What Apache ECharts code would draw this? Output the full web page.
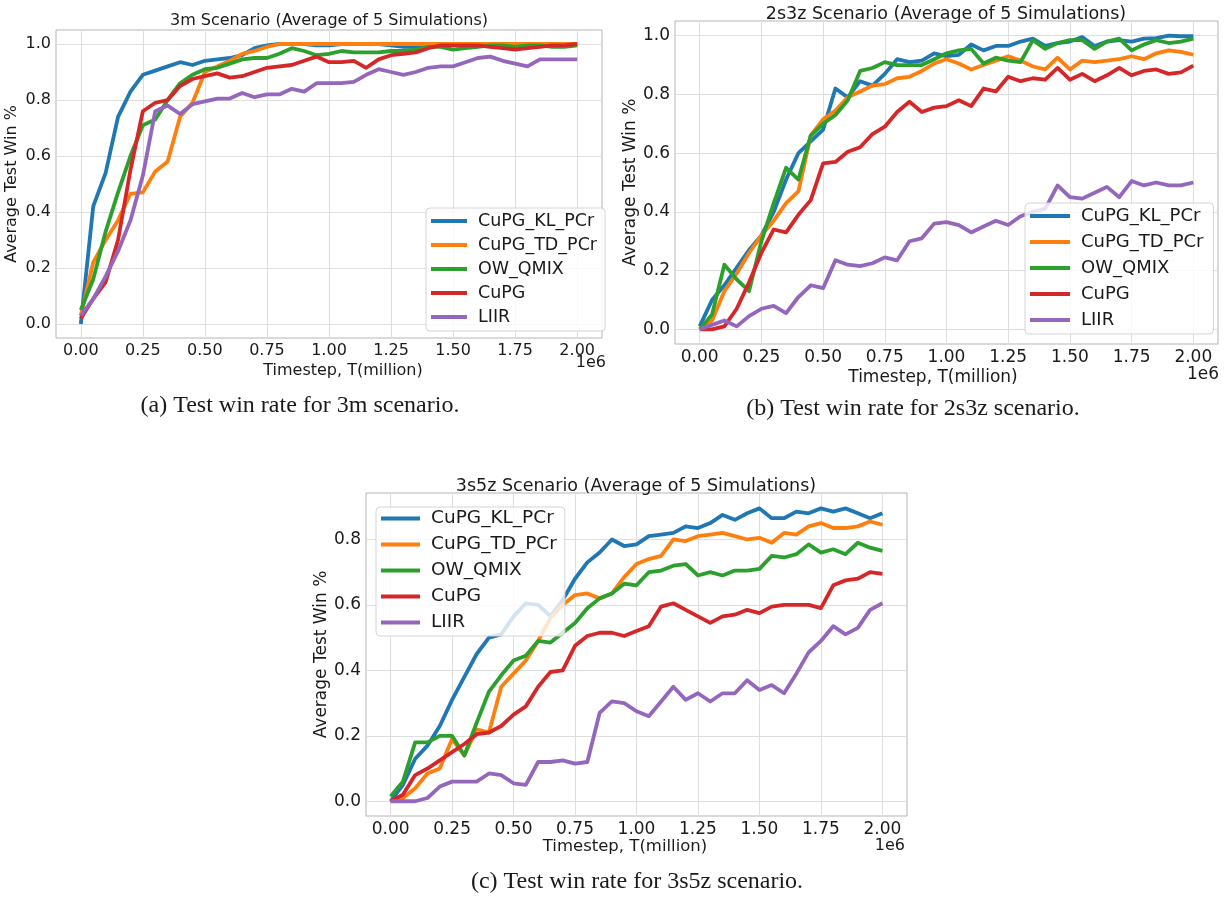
<!DOCTYPE html>
<html>
<head>
<meta charset="utf-8">
<script src="https://cdn.jsdelivr.net/npm/echarts@6/dist/echarts.min.js"></script>
<style>
  html, body { margin: 0; padding: 0; background: #fff; }
  #main { width: 1230px; height: 903px; }
</style>
</head>
<body>
<div id="main"></div>
<script>
// timesteps in millions (axis shows 0.00 .. 2.00 with a 1e6 offset)
var timesteps = [0, 0.05, 0.1, 0.15, 0.2, 0.25, 0.3, 0.35, 0.4, 0.45, 0.5, 0.55, 0.6, 0.65, 0.7, 0.75, 0.8, 0.85, 0.9, 0.95, 1,
                 1.05, 1.1, 1.15, 1.2, 1.25, 1.3, 1.35, 1.4, 1.45, 1.5, 1.55, 1.6, 1.65, 1.7, 1.75, 1.8, 1.85, 1.9, 1.95, 2];
var xTicks = [0, 0.25, 0.5, 0.75, 1, 1.25, 1.5, 1.75, 2];
var yTicks = [0, 0.2, 0.4, 0.6, 0.8, 1.0];
var yTicksC = [0, 0.2, 0.4, 0.6, 0.8];
var names = ['CuPG_KL_PCr', 'CuPG_TD_PCr', 'OW_QMIX', 'CuPG', 'LIIR'];
var colors = ['#1f77b4', '#ff7f0e', '#2ca02c', '#d62728', '#9467bd'];

// (a) 3m
var m3_kl   = [0.00,0.42,0.54,0.74,0.83,0.89,0.905,0.92,0.935,0.925,0.94,0.945,0.95,0.96,0.985,0.995,1.0,1.0,1.0,0.995,0.995,1.0,1.0,1.0,1.0,0.995,0.99,0.99,1.0,1.0,1.0,1.0,1.0,1.0,1.0,1.0,0.995,1.0,1.0,1.0,1.0];
var m3_td   = [0.03,0.22,0.30,0.37,0.465,0.47,0.545,0.58,0.74,0.79,0.90,0.92,0.94,0.965,0.975,0.99,1.0,1.0,1.0,1.0,1.0,1.0,1.0,1.0,1.0,1.0,1.0,1.0,1.0,1.0,1.0,1.0,1.0,1.0,1.0,1.0,1.0,1.0,1.0,1.0,1.0];
var m3_qmix = [0.05,0.16,0.33,0.47,0.60,0.71,0.73,0.80,0.86,0.89,0.91,0.915,0.93,0.945,0.95,0.95,0.965,0.985,0.975,0.96,0.965,0.975,0.97,0.97,0.97,0.975,0.975,0.98,0.99,0.99,0.98,0.985,0.99,0.995,0.995,0.99,0.995,0.995,0.99,0.99,0.995];
var m3_cupg = [0.02,0.09,0.15,0.30,0.55,0.76,0.79,0.80,0.85,0.875,0.885,0.895,0.88,0.885,0.90,0.915,0.92,0.925,0.94,0.955,0.935,0.935,0.94,0.915,0.945,0.96,0.965,0.97,0.985,0.995,0.995,0.995,0.995,0.99,0.985,0.98,0.985,0.99,0.995,0.995,1.0];
var m3_liir = [0.03,0.09,0.17,0.26,0.37,0.53,0.76,0.78,0.75,0.785,0.795,0.805,0.805,0.825,0.81,0.82,0.82,0.84,0.83,0.86,0.86,0.86,0.865,0.89,0.91,0.90,0.89,0.90,0.915,0.92,0.92,0.935,0.95,0.955,0.94,0.93,0.92,0.945,0.945,0.945,0.945];

// (b) 2s3z
var s2z3_kl   = [0.01,0.10,0.15,0.21,0.27,0.32,0.40,0.51,0.60,0.64,0.68,0.82,0.79,0.845,0.83,0.87,0.92,0.91,0.915,0.94,0.93,0.935,0.97,0.95,0.965,0.965,0.98,0.99,0.965,0.975,0.98,0.995,0.965,0.98,0.985,0.98,0.99,0.992,1.0,0.998,0.998];
var s2z3_td   = [0.0,0.03,0.13,0.19,0.26,0.32,0.37,0.43,0.47,0.66,0.715,0.745,0.79,0.81,0.83,0.835,0.855,0.86,0.88,0.905,0.92,0.905,0.885,0.9,0.915,0.93,0.915,0.895,0.885,0.925,0.885,0.915,0.91,0.915,0.92,0.93,0.92,0.94,0.95,0.945,0.935];
var s2z3_qmix = [0.0,0.05,0.22,0.17,0.13,0.30,0.43,0.55,0.51,0.66,0.70,0.73,0.78,0.88,0.89,0.91,0.90,0.90,0.90,0.92,0.94,0.95,0.955,0.905,0.925,0.915,0.91,0.985,0.955,0.975,0.985,0.985,0.955,0.98,0.99,0.95,0.97,0.985,0.975,0.98,0.99];
var s2z3_cupg = [0.0,0.0,0.01,0.07,0.16,0.26,0.34,0.33,0.39,0.44,0.565,0.57,0.605,0.62,0.665,0.69,0.74,0.775,0.74,0.755,0.76,0.78,0.76,0.82,0.81,0.86,0.845,0.855,0.85,0.89,0.85,0.87,0.845,0.865,0.89,0.865,0.88,0.885,0.87,0.875,0.898];
var s2z3_liir = [0.0,0.015,0.03,0.01,0.045,0.07,0.08,0.055,0.11,0.15,0.14,0.235,0.22,0.215,0.225,0.245,0.235,0.30,0.31,0.36,0.365,0.355,0.33,0.35,0.37,0.355,0.385,0.40,0.41,0.49,0.45,0.445,0.465,0.485,0.45,0.505,0.49,0.50,0.49,0.49,0.50];

// (c) 3s5z
var s3z5_kl   = [0.0,0.05,0.13,0.17,0.23,0.31,0.38,0.45,0.50,0.51,0.565,0.605,0.60,0.565,0.615,0.68,0.73,0.76,0.80,0.78,0.785,0.81,0.815,0.82,0.84,0.835,0.85,0.875,0.86,0.88,0.895,0.865,0.865,0.885,0.88,0.895,0.885,0.895,0.88,0.865,0.88];
var s3z5_td   = [0.0,0.01,0.04,0.085,0.10,0.19,0.14,0.22,0.21,0.35,0.39,0.43,0.49,0.56,0.60,0.63,0.635,0.62,0.635,0.685,0.725,0.74,0.75,0.80,0.795,0.81,0.815,0.82,0.81,0.80,0.805,0.79,0.82,0.815,0.84,0.85,0.835,0.835,0.84,0.855,0.845];
var s3z5_qmix = [0.015,0.06,0.18,0.18,0.20,0.20,0.14,0.24,0.335,0.385,0.43,0.445,0.49,0.485,0.515,0.545,0.59,0.62,0.635,0.665,0.66,0.70,0.705,0.72,0.725,0.69,0.70,0.69,0.705,0.705,0.71,0.75,0.745,0.755,0.785,0.76,0.77,0.755,0.79,0.775,0.765];
var s3z5_cupg = [0.0,0.02,0.08,0.10,0.125,0.15,0.175,0.205,0.21,0.23,0.265,0.29,0.35,0.395,0.40,0.475,0.505,0.515,0.515,0.505,0.52,0.535,0.595,0.605,0.585,0.565,0.545,0.565,0.57,0.585,0.575,0.595,0.60,0.60,0.60,0.59,0.66,0.675,0.68,0.70,0.695];
var s3z5_liir = [0.0,0.0,0.0,0.01,0.045,0.06,0.06,0.06,0.085,0.08,0.055,0.05,0.12,0.12,0.125,0.115,0.12,0.27,0.305,0.30,0.275,0.26,0.305,0.35,0.31,0.33,0.305,0.33,0.33,0.37,0.34,0.355,0.33,0.39,0.455,0.49,0.535,0.51,0.53,0.585,0.605];

var panels = [
  [m3_kl, m3_td, m3_qmix, m3_cupg, m3_liir],
  [s2z3_kl, s2z3_td, s2z3_qmix, s2z3_cupg, s2z3_liir],
  [s3z5_kl, s3z5_td, s3z5_qmix, s3z5_cupg, s3z5_liir]
];

var SANS = 'DejaVu Sans';
var SERIF = 'Liberation Serif';
var TXT = '#1a1a1a';

function xAxisFor(idx, fs) {
  return {
    type: 'value', gridIndex: idx, min: -0.1, max: 2.1,
    axisLine: { show: false },
    axisTick: { show: false, customValues: xTicks },
    axisLabel: {
      customValues: xTicks, fontSize: fs, color: TXT, fontFamily: SANS, margin: 5,
      formatter: function (v) { return v.toFixed(2); }
    },
    splitLine: { show: true, lineStyle: { color: '#dedede', width: 1 } }
  };
}
function yAxisFor(idx, fs, min, max, ticks, gap) {
  return {
    type: 'value', gridIndex: idx, min: min, max: max,
    name: 'Average Test Win %', nameLocation: 'middle', nameGap: gap,
    nameTextStyle: { fontSize: fs, color: TXT, fontFamily: SANS },
    axisLine: { show: false },
    axisTick: { show: false, customValues: ticks },
    axisLabel: {
      customValues: ticks, fontSize: fs, color: TXT, fontFamily: SANS, margin: 5,
      formatter: function (v) { return v.toFixed(1); }
    },
    splitLine: { show: true, lineStyle: { color: '#dedede', width: 1 } }
  };
}
function legendFor(left, top, fs, iw, gap, pad) {
  return {
    orient: 'vertical', left: left, top: top, data: names, selectedMode: false,
    icon: 'rect', itemWidth: iw, itemHeight: 4, itemGap: gap, padding: pad,
    backgroundColor: 'rgba(255,255,255,0.8)', borderColor: '#d4d4d4', borderWidth: 1, borderRadius: 4,
    textStyle: { fontSize: fs, color: TXT, fontFamily: SANS, padding: [0, 0, 0, 6] }
  };
}
function label(text, x, y, fs, family, align) {
  return {
    type: 'text', x: x, y: y, silent: true,
    style: { text: text, fontSize: fs, fontFamily: family, fill: TXT, align: align || 'center', verticalAlign: 'middle' }
  };
}

var series = [];
panels.forEach(function (lines, g) {
  lines.forEach(function (ys, k) {
    series.push({
      name: names[k], type: 'line', xAxisIndex: g, yAxisIndex: g,
      data: timesteps.map(function (t, i) { return [t, ys[i]]; }),
      symbol: 'none', smooth: false,
      lineStyle: { width: 3.8, color: colors[k], join: 'round' }, itemStyle: { color: colors[k] },
      emphasis: { disabled: true }
    });
  });
});

var frame = { show: true, borderColor: '#b5b5b5', borderWidth: 1, backgroundColor: 'transparent' };

var option = {
  animation: false,
  backgroundColor: '#fff',
  color: colors,
  grid: [
    Object.assign({ left: 56, top: 30, width: 546, height: 308 }, frame),
    Object.assign({ left: 675, top: 21, width: 543, height: 323 }, frame),
    Object.assign({ left: 366, top: 493, width: 541, height: 323 }, frame)
  ],
  xAxis: [xAxisFor(0, 16), xAxisFor(1, 17), xAxisFor(2, 17)],
  yAxis: [
    yAxisFor(0, 16, -0.05, 1.05, yTicks, 36),
    yAxisFor(1, 17, -0.05, 1.05, yTicks, 35),
    yAxisFor(2, 17, -0.045, 0.942, yTicksC, 34)
  ],
  legend: [
    legendFor(426, 208, 17.5, 36, 6, [4, 8, 5, 5]),
    legendFor(1025, 203, 18, 40, 8, [4, 10, 5, 5]),
    legendFor(376, 507, 18.5, 39, 7, [2, 8, 4, 5])
  ],
  graphic: [
    label('3m Scenario (Average of 5 Simulations)', 329, 21, 16, SANS),
    label('2s3z Scenario (Average of 5 Simulations)', 946, 14, 17.5, SANS),
    label('3s5z Scenario (Average of 5 Simulations)', 636, 486, 17.5, SANS),
    label('Timestep, T(million)', 343, 371, 16, SANS),
    label('Timestep, T(million)', 933, 378, 17, SANS),
    label('Timestep, T(million)', 625, 847, 16.5, SANS),
    label('1e6', 606, 363, 16, SANS, 'right'),
    label('1e6', 1219, 375, 17, SANS, 'right'),
    label('1e6', 905, 846, 16, SANS, 'right'),
    label('(a) Test win rate for 3m scenario.', 300, 406, 24, SERIF),
    label('(b) Test win rate for 2s3z scenario.', 913, 409, 24, SERIF),
    label('(c) Test win rate for 3s5z scenario.', 637, 882, 24, SERIF)
  ],
  series: series
};

var myChart = echarts.init(document.getElementById('main'));
myChart.setOption(option);
window.addEventListener('resize', function () { myChart.resize(); });
</script>
</body>
</html>
